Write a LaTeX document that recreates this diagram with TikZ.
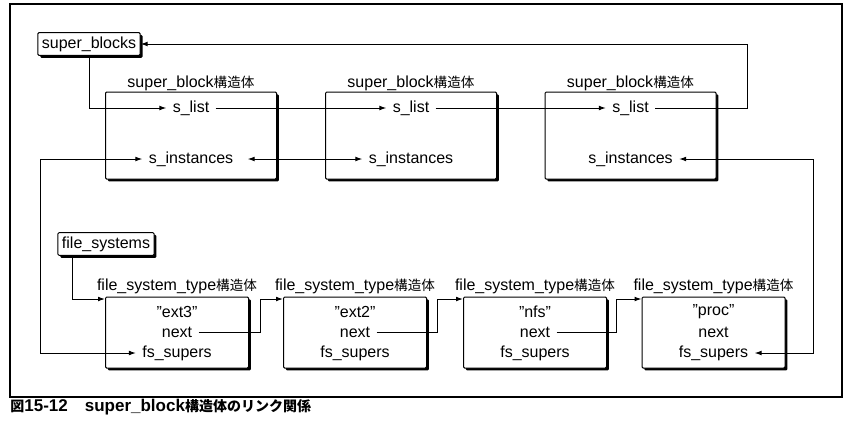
\documentclass[tikz,border=0pt]{standalone}
\usepackage{fontspec}
\setmainfont{Liberation Sans}
\newfontfamily\jpfont{Noto Sans CJK JP}
\newcommand{\jtext}[1]{{\jpfont\fontsize{6.8}{8}\selectfont #1}}
\newcommand{\jcap}[1]{{\jpfont\fontsize{7}{8}\selectfont #1}}
\usetikzlibrary{shadows,arrows.meta}

\begin{document}
\begin{tikzpicture}[x=0.5pt,y=-0.5pt,font=\fontsize{8}{9.5}\selectfont]
    \tikzstyle{struct}=[draw=black,fill=white,line width=0.5pt,rounded corners=0.6pt,drop shadow={shadow xshift=1.2pt,shadow yshift=-1.2pt,opacity=1,fill=black}]
    \tikzstyle{headvar}=[struct,inner sep=2pt,minimum height=11pt]
    \tikzstyle{sbox}=[struct,minimum width=85.5pt,minimum height=43.5pt]
    \tikzstyle{fbox}=[struct,minimum width=71.5pt,minimum height=35.5pt]
    \tikzstyle{sbtitle}=[yshift=-3pt]
    \tikzstyle{fstitle}=[yshift=-2pt]
    \tikzstyle{field}=[inner sep=3pt]
    \tikzstyle{link}=[line width=0.5pt,>={Latex[length=3.5pt,width=2.4pt]}]
    \useasboundingbox (0,0) rectangle (849,429);
    \draw[line width=0.6pt] (10,4) rectangle (842,397);
    % super_block list
    \node (sblk)[headvar] at (89,44) {super\_blocks};
    \node (sb1)[sbox,label={[sbtitle]above:super\_block\jtext{構造体}}] at (191,135.5) {};
    \node (sb2)[sbox,label={[sbtitle]above:super\_block\jtext{構造体}}] at (411,135.5) {};
    \node (sb3)[sbox,label={[sbtitle]above:super\_block\jtext{構造体}}] at (630.5,135.5) {};
    \node (list1)[field] at (191,108) {s\_list};
    \node (list2)[field] at (411,108) {s\_list};
    \node (list3)[field] at (630.5,108) {s\_list};
    \node (inst1)[field] at (191,159) {s\_instances};
    \node (inst2)[field] at (411,159) {s\_instances};
    \node (inst3)[field] at (630.5,159) {s\_instances};
    % file_system_type list
    \node (fsys)[headvar] at (106,244) {file\_systems};
    \node (fs1)[fbox,label={[fstitle]above:file\_system\_type\jtext{構造体}}] at (177,332.5) {};
    \node (fs2)[fbox,label={[fstitle]above:file\_system\_type\jtext{構造体}}] at (355,332.5) {};
    \node (fs3)[fbox,label={[fstitle]above:file\_system\_type\jtext{構造体}}] at (535,332.5) {};
    \node (fs4)[fbox,label={[fstitle]above:file\_system\_type\jtext{構造体}}] at (713.5,332.5) {};
    \node (name1)[field] at (177,312) {"ext3"};
    \node (name2)[field] at (355,312) {"ext2"};
    \node (name3)[field] at (535,312) {"nfs"};
    \node (name4)[field] at (713.5,312) {"proc"};
    \node (next1)[field] at (177,332.5) {next};
    \node (next2)[field] at (355,332.5) {next};
    \node (next3)[field] at (535,332.5) {next};
    \node (next4)[field] at (713.5,332.5) {next};
    \node (fss1)[field] at (177,353) {fs\_supers};
    \node (fss2)[field] at (355,353) {fs\_supers};
    \node (fss3)[field] at (535,353) {fs\_supers};
    \node (fss4)[field] at (713.5,353) {fs\_supers};
    \coordinate (j0) at (72,299);
    \coordinate (j1) at (260,299);
    \coordinate (j2) at (437,299);
    \coordinate (j3) at (616,299);
    \coordinate (j5) at (747,44);
    \coordinate (j6) at (40,353);
    \coordinate (j7) at (813,353);
    % links
    \draw[link,->] (sblk.south) |- (list1.west);
    \draw[link,->] (list1) -- (list2);
    \draw[link,->] (list2) -- (list3);
    \draw[link,->] (list3.east) -| (j5) -- (sblk.east);
    \draw[link,<->] (inst1.west) -| (j6) -- (fss1.west);
    \draw[link,<->,shorten <=4pt] (inst1) -- (inst2);
    \draw[link,<->] (inst3.east) -| (j7) -- (fss4.east);
    \draw[link,->] (j0 |- fsys.south) -- (j0) -- (j0 -| fs1.west);
    \draw[link,->] (next1.east) -| (j1) -- (j1 -| fs2.west);
    \draw[link,->] (next2.east) -| (j2) -- (j2 -| fs3.west);
    \draw[link,->] (next3.east) -| (j3) -- (j3 -| fs4.west);
    \node (cap)[anchor=west,inner sep=0pt,font=\fontsize{8.5}{10}\selectfont\bfseries] at (10,407) {\jcap{図}15-12\quad super\_block\jcap{構造体のリンク関係}};
\end{tikzpicture}
\end{document}
